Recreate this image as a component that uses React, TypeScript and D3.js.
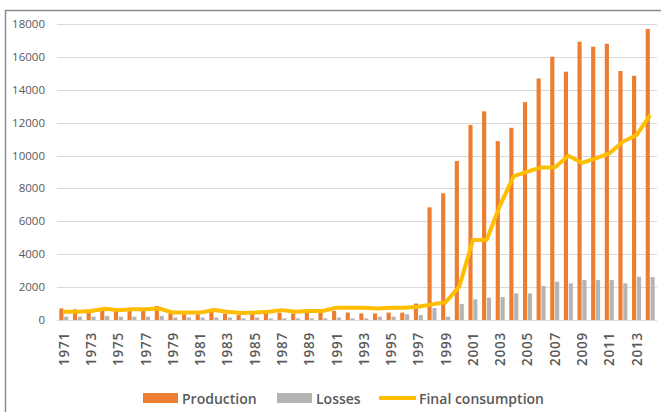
import React, { useEffect, useRef } from 'react'
import * as d3 from 'd3'

const years = d3.range(1971, 2015).map(String)
const production = [
    700, 650, 500, 600, 550, 600, 600, 850, 400, 350, 350, 500, 400, 300, 550,
    450, 450, 400, 450, 450, 550, 450, 400, 400, 450, 450, 1000, 6850, 7700,
    9670, 11860, 12690, 10880, 11690, 13250, 14690, 16010, 15100, 16920, 16620,
    16800, 15140, 14850, 17700,
]
const losses = [
    200, 200, 200, 250, 200, 200, 200, 250, 150, 150, 150, 150, 150, 100, 150,
    100, 100, 100, 100, 100, 150, 100, 100, 200, 200, 350, 300, 730, 200, 970,
    1260, 1360, 1400, 1620, 1620, 2070, 2330, 2230, 2430, 2430, 2430, 2230,
    2630, 2610,
]
const consumption = [
    500, 500, 550, 690, 600, 650, 650, 700, 450, 450, 450, 610, 500, 420, 450,
    500, 600, 500, 550, 550, 750, 750, 750, 700, 750, 750, 810, 950, 1080, 2030,
    4860, 4860, 6990, 8750, 9020, 9280, 9280, 9990, 9560, 9830, 10130, 10840,
    11250, 12460,
]
const yTicks = [0, 2000, 4000, 6000, 8000, 10000, 12000, 14000, 16000, 18000]
const legendItems = ['Production', 'Losses', 'Final consumption']

const W = 661
const H = 412
const font = "'Open Sans', sans-serif"

export default function App() {
    const svgRef = useRef<SVGSVGElement>(null)

    useEffect(() => {
        const svg = d3.select(svgRef.current)
        svg.selectAll('*').remove()

        // frame
        svg.append('path')
            .attr('d', `M5.5,${H} V10.5 H${W}`)
            .attr('fill', 'none')
            .attr('stroke', '#8c8c8c')
            .attr('stroke-width', 1.5)

        const x = d3.scaleBand().domain(years).range([57, 657]).padding(0)
        const y = d3.scaleLinear().domain([0, 18000]).range([320, 24])
        const inner = d3
            .scaleBand()
            .domain(['p', 'l'])
            .range([x.bandwidth() / 2 - 4.5, x.bandwidth() / 2 + 4.5])
            .paddingInner(0.15)

        // grid
        svg.append('g')
            .selectAll('line')
            .data(yTicks)
            .join('line')
            .attr('x1', 57)
            .attr('x2', 657)
            .attr('y1', (d) => Math.round(y(d)) + 0.5)
            .attr('y2', (d) => Math.round(y(d)) + 0.5)
            .attr('stroke', '#d9d9d9')
            .attr('stroke-width', 1.2)

        svg.append('g')
            .selectAll('text')
            .data(yTicks)
            .join('text')
            .attr('x', 45)
            .attr('y', (d) => y(d) + 4)
            .attr('text-anchor', 'end')
            .attr('font-family', font)
            .attr('font-size', 11.5)
            .attr('fill', '#595959')
            .text((d) => d)

        // bars
        svg.append('g')
            .selectAll('rect')
            .data(production)
            .join('rect')
            .attr('x', (d, i) => x(years[i])! + inner('p')!)
            .attr('y', (d) => y(d))
            .attr('width', inner.bandwidth())
            .attr('height', (d) => y(0) - y(d))
            .attr('fill', '#ed7d31')

        svg.append('g')
            .selectAll('rect')
            .data(losses)
            .join('rect')
            .attr('x', (d, i) => x(years[i])! + inner('l')!)
            .attr('y', (d) => y(d))
            .attr('width', inner.bandwidth())
            .attr('height', (d) => y(0) - y(d))
            .attr('fill', '#b4b4b4')

        // line
        const line = d3
            .line<number>()
            .x((d, i) => x(years[i])! + x.bandwidth() / 2)
            .y((d) => y(d))
        svg.append('path')
            .datum(consumption)
            .attr('d', line)
            .attr('fill', 'none')
            .attr('stroke', '#ffbd00')
            .attr('stroke-width', 4)
            .attr('stroke-linejoin', 'round')

        // x labels
        svg.append('g')
            .selectAll('text')
            .data(years.filter((d, i) => i % 2 === 0))
            .join('text')
            .attr(
                'transform',
                (d) => `translate(${x(d)! + x.bandwidth() / 2 + 5},332) rotate(-90)`
            )
            .attr('text-anchor', 'end')
            .attr('font-family', font)
            .attr('font-size', 13.5)
            .attr('font-weight', 600)
            .attr('letter-spacing', 0.8)
            .attr('fill', '#595959')
            .text((d) => d)

        // legend
        const lx = [143, 277, 379]
        const lg = svg.append('g').attr('font-family', font)
        lg.append('rect').attr('x', lx[0]).attr('y', 393).attr('width', 35).attr('height', 10).attr('fill', '#ed7d31')
        lg.append('rect').attr('x', lx[1]).attr('y', 393).attr('width', 35).attr('height', 10).attr('fill', '#b4b4b4')
        lg.append('line')
            .attr('x1', lx[2]).attr('x2', lx[2] + 37)
            .attr('y1', 398).attr('y2', 398)
            .attr('stroke', '#ffbd00').attr('stroke-width', 4)
        lg.selectAll('text')
            .data(legendItems)
            .join('text')
            .attr('x', (d, i) => lx[i] + (i === 2 ? 40 : 39))
            .attr('y', 404)
            .attr('font-size', 14)
            .attr('font-weight', 600)
            .attr('fill', '#595959')
            .text((d) => d)
    }, [])

    return (
        <svg
            ref={svgRef}
            width={W}
            height={H}
            style={{ position: 'fixed', left: 0, top: 0, background: '#fff' }}
        />
    )
}
